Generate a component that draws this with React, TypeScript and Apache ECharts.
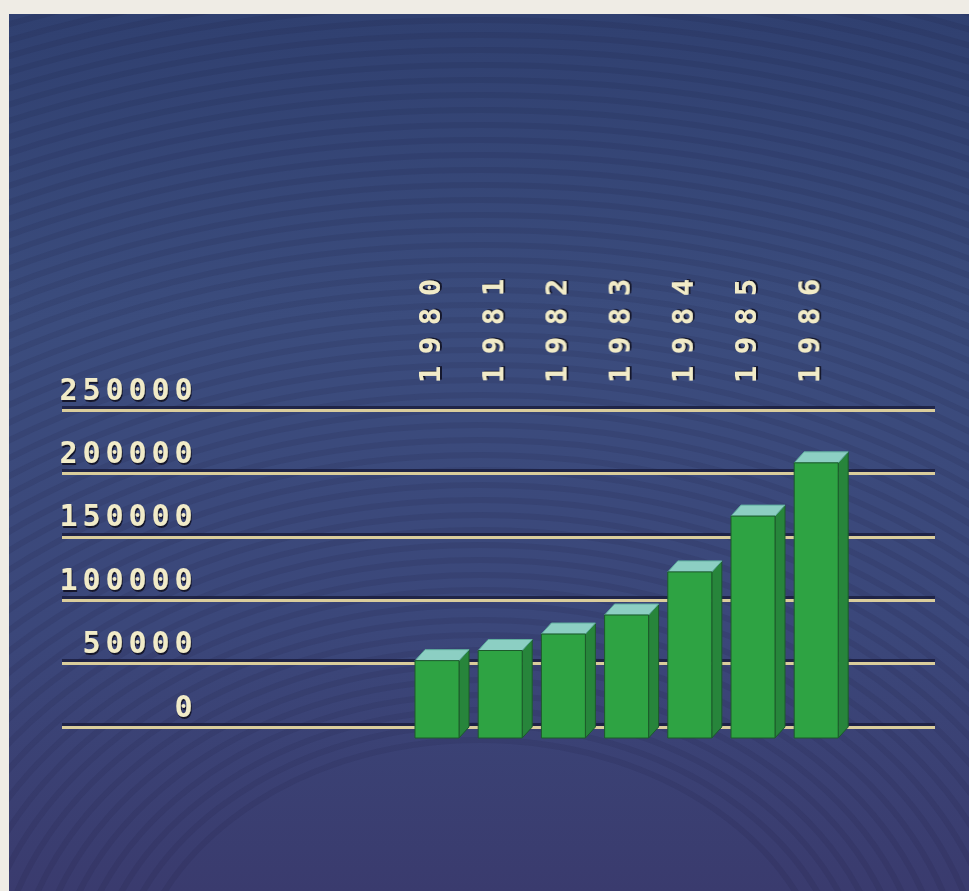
import React, { useEffect, useRef } from 'react';
import * as echarts from 'echarts';

// ---- data ----
const years: string[] = ['1980', '1981', '1982', '1983', '1984', '1985', '1986'];
const values: number[] = [61000, 69000, 82000, 97000, 131000, 175000, 217000];
const yMin = 0;
const yMax = 250000;
const yStep = 50000;

// ---- style ----
const FRONT = '#2ea343';
const TOP = '#8ccfc3';
const SIDE = '#27853b';
const EDGE = '#1c5a2b';
const TEXT = '#f1ebc8';
const LINE = '#dacd9c';
const LINE_SHADOW = '#181a38';
const PAPER = '#efece5';
const FONT = '"DejaVu Sans Mono", "Liberation Mono", monospace';
const HALF = 22; // half width of front face
const DX = 10; // depth x
const DY = 11; // depth y
const SHIFT = 7; // bar offset relative to its label

function spaced(s: string, key: string): string {
  return s.split('').map((ch) => `{${key}|${ch}}`).join('');
}

export default function App() {
  const ref = useRef<HTMLDivElement>(null);

  useEffect(() => {
    if (!ref.current) return;
    const chart = echarts.init(ref.current, undefined, { renderer: 'svg' });

    const gridTop = 410;
    const gridBottom = 891 - 727;

    // faint moire rings in the background
    const rings: any[] = [];
    for (let r = 270; r < 1300; r += 15) {
      rings.push({
        type: 'ellipse',
        z: -9,
        silent: true,
        shape: { cx: 480, cy: 1010, rx: r * 1.3, ry: r },
        style: { fill: 'none', stroke: 'rgba(15,20,50,0.10)', lineWidth: 6 },
      });
    }

    const labelShadow = {
      textShadowColor: 'rgba(10,12,30,0.85)',
      textShadowOffsetX: 1,
      textShadowOffsetY: 2,
      textShadowBlur: 1,
    };

    const option: any = {
      animation: false,
      backgroundColor: PAPER,
      graphic: [
        {
          type: 'rect',
          z: -10,
          silent: true,
          shape: { x: 9, y: 14, width: 960, height: 877 },
          style: {
            fill: new echarts.graphic.LinearGradient(0, 0, 0, 1, [
              { offset: 0, color: '#304070' },
              { offset: 0.35, color: '#3b4c7d' },
              { offset: 0.7, color: '#3b477a' },
              { offset: 1, color: '#3a3b6e' },
            ]),
          },
        },
        ...rings,
        {
          type: 'rect',
          z: -8,
          silent: true,
          shape: { x: 0, y: 0, width: 969, height: 14 },
          style: { fill: PAPER },
        },
        {
          type: 'rect',
          z: -8,
          silent: true,
          shape: { x: 0, y: 0, width: 9, height: 891 },
          style: { fill: PAPER },
        },
      ],
      grid: [
        { left: 62, right: 34, top: gridTop, bottom: gridBottom },
        { left: 398.4, width: 442.4, top: gridTop, bottom: gridBottom },
        { left: 62, right: 34, top: gridTop - 3, bottom: gridBottom + 3 },
      ],
      xAxis: [
        { gridIndex: 0, type: 'category', data: [''], show: false },
        {
          gridIndex: 1,
          type: 'category',
          position: 'top',
          data: years,
          axisLine: { show: false },
          axisTick: { show: false },
          axisLabel: {
            rotate: 90,
            margin: 21,
            formatter: (v: string) => spaced(v, 'y'),
            rich: {
              y: {
                width: 29,
                align: 'center',
                color: TEXT,
                fontFamily: FONT,
                fontWeight: 'bold',
                fontSize: 29,
                ...labelShadow,
              },
            },
          },
        },
        { gridIndex: 2, type: 'category', data: [''], show: false },
      ],
      yAxis: [
        {
          gridIndex: 0,
          type: 'value',
          min: yMin,
          max: yMax,
          interval: yStep,
          z: 2,
          axisLine: { show: false },
          axisTick: { show: false },
          axisLabel: {
            inside: true,
            margin: 133,
            align: 'right',
            verticalAlign: 'middle',
            padding: [0, 0, 42, 0],
            formatter: (v: number) => spaced(String(v), 'n'),
            rich: {
              n: {
                width: 23,
                align: 'center',
                color: TEXT,
                fontFamily: FONT,
                fontWeight: 'bold',
                fontSize: 30,
                ...labelShadow,
              },
            },
          },
          splitLine: {
            show: true,
            lineStyle: { color: LINE, width: 3 },
          },
        },
        {
          gridIndex: 1,
          type: 'value',
          min: yMin,
          max: yMax,
          interval: yStep,
          show: false,
          splitLine: { show: false },
        },
        {
          gridIndex: 2,
          type: 'value',
          min: yMin,
          max: yMax,
          interval: yStep,
          z: 1,
          axisLine: { show: false },
          axisTick: { show: false },
          axisLabel: { show: false },
          splitLine: {
            show: true,
            lineStyle: { color: LINE_SHADOW, width: 3, opacity: 0.75 },
          },
        },
      ],
      series: [
        {
          type: 'custom',
          z: 5,
          xAxisIndex: 1,
          yAxisIndex: 1,
          data: years.map((_, i) => [i, values[i]]),
          renderItem: (_params: any, api: any) => {
            const idx = api.value(0);
            const val = api.value(1);
            const top = api.coord([idx, val]);
            const base = api.coord([idx, 0]);
            const c = top[0] + SHIFT;
            const fl = c - HALF;
            const fr = c + HALF;
            const ft = top[1] + DY;
            const fb = base[1] + DY;
            return {
              type: 'group',
              children: [
                {
                  type: 'polygon',
                  shape: {
                    points: [
                      [fr, ft],
                      [fr + DX, ft - DY],
                      [fr + DX, fb - DY],
                      [fr, fb],
                    ],
                  },
                  style: { fill: SIDE, stroke: EDGE, lineWidth: 1 },
                },
                {
                  type: 'polygon',
                  shape: {
                    points: [
                      [fl, ft],
                      [fr, ft],
                      [fr + DX, ft - DY],
                      [fl + DX, ft - DY],
                    ],
                  },
                  style: { fill: TOP, stroke: '#5fae9e', lineWidth: 1 },
                },
                {
                  type: 'rect',
                  shape: { x: fl, y: ft, width: fr - fl, height: fb - ft },
                  style: { fill: FRONT, stroke: EDGE, lineWidth: 1 },
                },
              ],
            };
          },
        },
      ],
    };

    chart.setOption(option);
    return () => chart.dispose();
  }, []);

  return (
    <div
      ref={ref}
      style={{ position: 'absolute', left: 0, top: 0, width: 969, height: 891 }}
    />
  );
}
